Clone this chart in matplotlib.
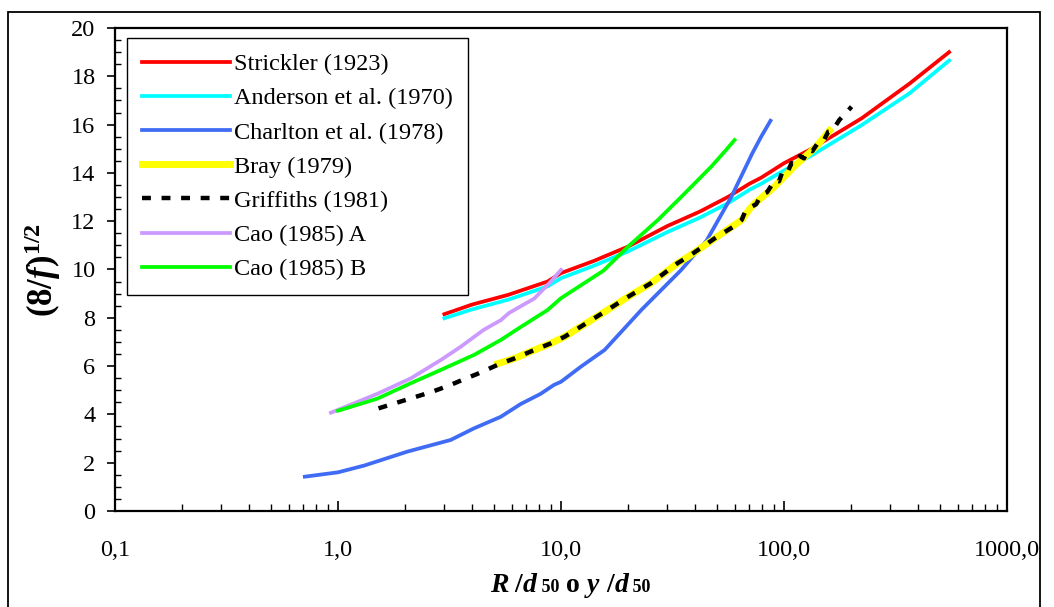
import matplotlib
matplotlib.use("Agg")
import matplotlib.pyplot as plt
from matplotlib.patches import Rectangle
from matplotlib.ticker import FixedLocator, FuncFormatter, MultipleLocator, LogLocator, NullFormatter
from matplotlib.offsetbox import TextArea, HPacker, AnchoredOffsetbox

plt.rcParams['font.family'] = ['Liberation Serif', 'DejaVu Serif']
plt.rcParams['mathtext.fontset'] = 'custom'
plt.rcParams['mathtext.rm'] = 'Liberation Serif'
plt.rcParams['mathtext.it'] = 'Liberation Serif:italic'
plt.rcParams['mathtext.bf'] = 'Liberation Serif:bold'
plt.rcParams['mathtext.bfit'] = 'Liberation Serif:italic:bold'

# data (x = R/d50 or y/d50, y = (8/f)^1/2)
strickler_x = [3.0, 4.0, 5.8, 8.7, 10, 14, 20, 30, 42, 56, 70, 79, 100, 130, 223, 366, 550]
strickler_y = [8.15, 8.55, 8.95, 9.5, 9.85, 10.35, 10.95, 11.8, 12.4, 13.0, 13.55, 13.8, 14.4, 14.95, 16.26, 17.7, 19.0]

anderson_x = [3.0, 4.0, 5.8, 8.7, 10, 14, 20, 30, 42, 56, 70, 79, 100, 130, 223, 366, 550]
anderson_y = [7.98, 8.35, 8.75, 9.3, 9.64, 10.15, 10.75, 11.55, 12.15, 12.74, 13.3, 13.55, 14.1, 14.67, 15.98, 17.3, 18.65]

charlton_x = [0.71, 1.0, 1.31, 2.05, 3.2, 4.07, 5.37, 6.6, 8.1, 9.3, 10, 12.3, 15.7, 22.9, 34.6, 45, 58, 72, 79, 87]
charlton_y = [1.42, 1.6, 1.88, 2.46, 2.94, 3.42, 3.9, 4.43, 4.85, 5.22, 5.35, 5.98, 6.67, 8.32, 9.98, 11.2, 13.0, 14.8, 15.5, 16.16]

bray_x = [5.2, 6.2, 7.3, 9.0, 10.4, 15.7, 20, 25.3, 33.3, 37.2, 50, 64.6, 70, 74, 90, 112, 140, 160]
bray_y = [6.1, 6.32, 6.6, 6.94, 7.22, 8.25, 8.87, 9.43, 10.26, 10.53, 11.35, 12.05, 12.5, 12.74, 13.4, 14.3, 15.1, 15.75]

griffiths_x = [1.52, 2.05, 2.65, 3.2, 3.66, 4.2, 4.7, 5.37, 6.2, 7.3, 9.0, 10.4, 15.7, 20, 25.3, 33.3, 37.2,
               50, 60, 64.6, 67, 71.5, 75, 79, 84, 91, 95, 99, 104, 108, 113, 118, 123, 128, 134,
               143, 150, 158, 165, 177, 201]
griffiths_y = [4.25, 4.62, 4.94, 5.22, 5.45, 5.67, 5.87, 6.11, 6.32, 6.6, 6.94, 7.22, 8.25, 8.87, 9.43, 10.26, 10.53,
               11.35, 11.8, 12.05, 12.4, 12.6, 12.7, 13.08, 13.2, 13.7, 13.65, 14.12, 14.05, 14.4, 14.35, 14.7, 14.6, 14.95, 14.9,
               15.29, 15.3, 15.71, 15.75, 16.19, 16.74]

caoA_x = [0.93, 1.5, 2.12, 2.89, 3.55, 4.5, 5.37, 5.85, 7.6, 9.0, 10]
caoA_y = [4.07, 4.85, 5.49, 6.25, 6.8, 7.5, 7.9, 8.2, 8.8, 9.5, 9.98]

caoB_x = [1.0, 1.5, 2.12, 2.89, 4.07, 5.37, 6.3, 8.7, 10, 15.5, 20, 27.2, 35, 47.2, 55, 60]
caoB_y = [4.15, 4.65, 5.29, 5.84, 6.46, 7.08, 7.5, 8.32, 8.81, 9.95, 10.95, 12.05, 13.05, 14.26, 14.95, 15.36]

fig = plt.figure(figsize=(10.54, 6.07), dpi=100)
ax = fig.add_axes([0.1091, 0.1582, 0.8463, 0.7957])

lw = 2.7
ax.plot(strickler_x, strickler_y, color='#FF0000', lw=lw, label='Strickler (1923)')
ax.plot(anderson_x, anderson_y, color='#00FFFF', lw=lw, label='Anderson et al. (1970)')
ax.plot(charlton_x, charlton_y, color='#3F6BF5', lw=lw, label='Charlton et al. (1978)')
ax.plot(bray_x, bray_y, color='#FFFF00', lw=5, label='Bray (1979)')
ax.plot(griffiths_x, griffiths_y, color='black', lw=3.2, ls=(0, (2.0, 2.4)), label='Griffiths (1981)')
ax.plot(caoA_x, caoA_y, color='#CC99FF', lw=lw, label='Cao (1985) A')
ax.plot(caoB_x, caoB_y, color='#00FF00', lw=lw, label='Cao (1985) B')

ax.set_xscale('log')
ax.set_xlim(0.1, 1000)
ax.set_ylim(0, 20)

ax.xaxis.set_major_locator(FixedLocator([0.1, 1, 10, 100, 1000]))
ax.xaxis.set_major_formatter(FuncFormatter(lambda v, p: ('%.1f' % v).replace('.', ',')))
ax.xaxis.set_minor_locator(LogLocator(base=10, subs=range(2, 10)))
ax.xaxis.set_minor_formatter(NullFormatter())
ax.yaxis.set_major_locator(MultipleLocator(2))
ax.yaxis.set_minor_locator(MultipleLocator(0.5))

ax.tick_params(axis='x', which='major', direction='in', length=7, width=1.2, labelsize=17.5, pad=21)
ax.tick_params(axis='x', which='minor', direction='in', length=5, width=1.0)
ax.tick_params(axis='y', which='major', direction='out', length=6, width=1.2, labelsize=17.5, pad=8)
ax.tick_params(axis='y', which='minor', direction='in', length=4, width=1.0)
ax.tick_params(top=False, right=False, which='both')

for s in ax.spines.values():
    s.set_linewidth(1.6)

ax.set_ylabel(r'$\mathbf{(8/}\mathbfit{f}\mathbf{)}^{\mathbf{1/2}}$', fontsize=25, labelpad=6)

# x label: big bold italic letters with small "50" on the baseline
parts = [('R', 20, 'italic'), (' /', 20, 'normal'), ('d', 20, 'italic'), (' 50', 13, 'normal'),
         (' o ', 20, 'normal'), ('y', 20, 'italic'), (' /', 20, 'normal'), ('d', 20, 'italic'), (' 50', 13, 'normal')]
boxes = [TextArea(t, textprops=dict(fontsize=fs, fontweight='bold', fontstyle=st, family='Liberation Serif'))
         for t, fs, st in parts]
xl = HPacker(children=boxes, align='baseline', pad=0, sep=0)
anch = AnchoredOffsetbox(loc='center', child=xl, frameon=False, pad=0, borderpad=0,
                         bbox_to_anchor=(0.541, 0.036), bbox_transform=fig.transFigure)
fig.add_artist(anch)

leg = ax.legend(loc='upper left', bbox_to_anchor=(0.0135, 0.979), borderaxespad=0, fontsize=17.5,
                handlelength=3.6, handletextpad=0.2, labelspacing=0.5, borderpad=0.62,
                fancybox=False, framealpha=1, edgecolor='black')
leg.get_frame().set_linewidth(1.0)

fig.add_artist(Rectangle((0.0076, -0.02), 0.979, 1.0, transform=fig.transFigure,
                         fill=False, edgecolor='black', lw=1.3))

fig.savefig('out.png', dpi=100)
